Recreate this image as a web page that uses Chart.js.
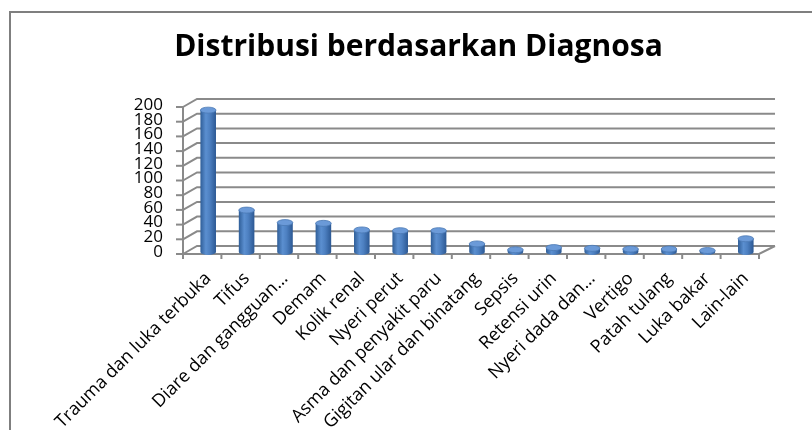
<!DOCTYPE html>
<html>
<head>
<meta charset="utf-8">
<script src="https://cdn.jsdelivr.net/npm/chart.js@4"></script>
<style>
  html, body { margin: 0; padding: 0; background: #fff; }
  #wrap { width: 812px; height: 430px; }
</style>
</head>
<body>
<div id="wrap"><canvas id="diagChart" width="812" height="430"></canvas></div>
<script>
const categories = [
    'Trauma dan luka terbuka', 'Tifus', 'Diare dan gangguan…', 'Demam', 'Kolik renal',
    'Nyeri perut', 'Asma dan penyakit paru', 'Gigitan ular dan binatang', 'Sepsis',
    'Retensi urin', 'Nyeri dada dan…', 'Vertigo', 'Patah tulang', 'Luka bakar', 'Lain-lain'
];
const jumlah = [193, 57, 40, 39, 30, 29, 29, 11, 3, 6, 5, 4, 4, 2, 18];
const yTicks = [0, 20, 40, 60, 80, 100, 120, 140, 160, 180, 200];

const GRID = '#8a8a8a';
const FRONT = { dx: -6, dy: 2 };   // front plane of the 3d floor
const BACK = { dx: 8, dy: -6 };    // back wall

// frame: border, 3d walls, gridlines, axis ticks
const framePlugin = {
    id: 'frame',
    beforeDraw(chart) {
        const c = chart.ctx;
        c.save();
        c.fillStyle = '#fff';
        c.fillRect(0, 0, chart.width, chart.height);
        c.strokeStyle = '#7f7f7f';
        c.lineWidth = 2;
        c.strokeRect(10, 12, 900, 600);
        c.restore();
    },
    beforeDatasetsDraw(chart) {
        const c = chart.ctx;
        const { left, right } = chart.chartArea;
        const ys = chart.scales.y;
        const y0 = ys.getPixelForValue(0);
        c.save();
        c.strokeStyle = GRID;
        c.lineWidth = 2;
        yTicks.forEach(v => {
            const y = ys.getPixelForValue(v);
            c.beginPath();
            c.moveTo(left + FRONT.dx, y + FRONT.dy);
            c.lineTo(left + BACK.dx, y + BACK.dy);
            c.lineTo(right + BACK.dx + 2, y + BACK.dy);
            c.stroke();
            // tick mark on the value axis
            c.beginPath();
            c.moveTo(left + FRONT.dx - 7, y + FRONT.dy);
            c.lineTo(left + FRONT.dx, y + FRONT.dy);
            c.stroke();
        });
        // value axis line
        c.beginPath();
        c.moveTo(left + FRONT.dx, ys.getPixelForValue(200) + FRONT.dy);
        c.lineTo(left + FRONT.dx, y0 + FRONT.dy);
        c.stroke();
        // floor front edge and right edge
        c.beginPath();
        c.moveTo(left + FRONT.dx, y0 + FRONT.dy);
        c.lineTo(right + FRONT.dx, y0 + FRONT.dy);
        c.lineTo(right + BACK.dx + 2, y0 + BACK.dy);
        c.stroke();
        // category tick marks
        const step = (right - left) / categories.length;
        for (let i = 0; i <= categories.length; i++) {
            const x = left + i * step + FRONT.dx;
            c.beginPath();
            c.moveTo(x, y0 + FRONT.dy);
            c.lineTo(x, y0 + FRONT.dy + 5);
            c.stroke();
        }
        c.restore();
    },
    afterDatasetsDraw(chart) {
        // turn the flat bars into cylinders
        const c = chart.ctx;
        const meta = chart.getDatasetMeta(0);
        meta.data.forEach(bar => {
            const w = bar.width, x = bar.x, top = bar.y, base = bar.base;
            const rx = w / 2, ry = 3;
            const g = c.createLinearGradient(x - rx, 0, x + rx, 0);
            g.addColorStop(0, '#2f5e98');
            g.addColorStop(0.35, '#5b8fd0');
            g.addColorStop(0.6, '#4d80c1');
            g.addColorStop(1, '#2c5893');
            c.save();
            c.fillStyle = g;
            c.beginPath();
            c.moveTo(x - rx, top);
            c.lineTo(x - rx, base);
            c.ellipse(x, base, rx, ry, 0, Math.PI, 0, true);
            c.lineTo(x + rx, top);
            c.closePath();
            c.fill();
            c.fillStyle = '#6b9ad8';
            c.strokeStyle = '#4a78b4';
            c.lineWidth = 0.8;
            c.beginPath();
            c.ellipse(x, top, rx, ry, 0, 0, Math.PI * 2);
            c.fill();
            c.stroke();
            c.restore();
        });
    }
};

new Chart(document.getElementById('diagChart'), {
    type: 'bar',
    data: {
        labels: categories,
        datasets: [{
            label: 'Jumlah',
            data: jumlah,
            backgroundColor: 'rgba(0,0,0,0)',
            barPercentage: 0.78,
            categoryPercentage: 0.52
        }]
    },
    options: {
        responsive: false,
        animation: false,
        layout: { padding: { left: 72, right: 47, top: 0, bottom: 0 } },
        plugins: {
            legend: { display: false },
            tooltip: { enabled: false },
            title: {
                display: true,
                text: 'Distribusi berdasarkan Diagnosa',
                color: '#000',
                font: { family: 'Open Sans', size: 30, weight: 'bold' },
                padding: { top: 29, bottom: 40 }
            }
        },
        scales: {
            x: {
                grid: { display: false },
                border: { display: false },
                ticks: {
                    autoSkip: false,
                    maxRotation: 45,
                    minRotation: 45,
                    padding: 8,
                    color: '#000',
                    font: { family: 'Open Sans', size: 18 }
                },
                afterFit(scale) { scale.height = 178; }
            },
            y: {
                min: 0,
                max: 200,
                grid: { display: false },
                border: { display: false },
                ticks: {
                    stepSize: 20,
                    autoSkip: false,
                    padding: 18,
                    color: '#000',
                    font: { family: 'Open Sans', size: 17 }
                },
                afterFit(scale) { scale.width = 117; }
            }
        }
    },
    plugins: [framePlugin]
});
</script>
</body>
</html>
